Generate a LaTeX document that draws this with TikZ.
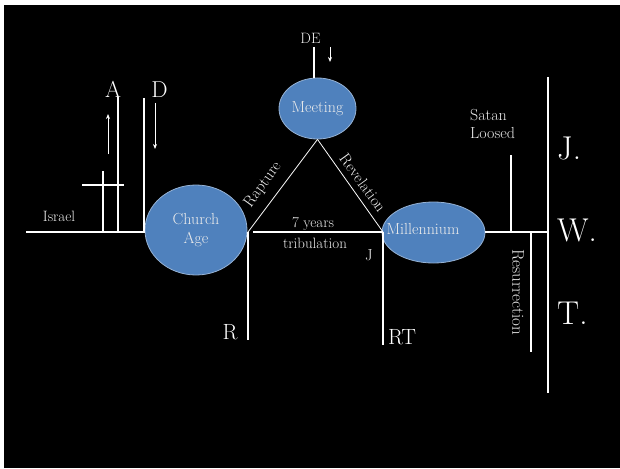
\documentclass[tikz,border=0pt]{standalone}
\usepackage{fontspec}
\usetikzlibrary{shapes.geometric,arrows.meta}
\definecolor{ovalfill}{RGB}{79,129,189}
\definecolor{ovaledge}{RGB}{150,178,212}
\definecolor{txt}{RGB}{235,235,235}
\newcommand{\fs}[1]{\fontsize{#1}{#1}\selectfont}
\begin{document}
\begin{tikzpicture}[x=1pt,y=-1pt,
  wline/.style={draw=white,line width=1.1pt},
  thin/.style={draw=white,line width=0.8pt},
  arr/.style={draw=white,line width=0.8pt,-{Stealth[length=5pt,width=4pt]}},
  oval/.style={ellipse,fill=ovalfill,draw=ovaledge,line width=0.8pt,inner sep=0pt},
  lab/.style={text=txt,inner sep=0pt},
  big/.style={text=white,inner sep=0pt}]
\useasboundingbox (0,0) rectangle (620,468);
\fill[white] (0,0) rectangle (620,468);
\fill[black] (4,5) rectangle (620,468);

% ellipses
\node[oval,minimum width=102pt,minimum height=90pt,text=txt,align=center,font=\fs{16}] (church) at (196,230) {Church\\[3pt]Age};
\node[oval,minimum width=77pt,minimum height=61pt,text=txt,font=\fs{16}] (meeting) at (317.5,108.5) {Meeting};
\node[oval,minimum width=103pt,minimum height=61pt] (mill) at (433.5,232.5) {};
\node[lab,font=\fs{16}] (milltxt) at (423,229) {Millennium};

% coordinates
\coordinate (L0) at (26,232);
\coordinate (tl) at (248,232);
\coordinate (tlb) at (253,232);
\coordinate (tr) at (383,232);
\coordinate (jr) at (548,232);
\coordinate (jtop) at (548,77);
\coordinate (jbot) at (548,393);
\coordinate (Rbot) at (248,340);
\coordinate (RTbot) at (383,345);
\coordinate (slt) at (511,155);
\coordinate (sl0) at (511,232);
\coordinate (res0) at (531,232);
\coordinate (resb) at (531,352);
\coordinate (Atop) at (118,97);
\coordinate (A0) at (118,232);
\coordinate (Dtop) at (144,98);
\coordinate (D0) at (144,232);
\coordinate (cv0) at (103,171);
\coordinate (cv1) at (103,232);
\coordinate (ch0) at (82,185);
\coordinate (ch1) at (124,185);
\coordinate (up0) at (108,154);
\coordinate (up1) at (108,114);
\coordinate (dn0) at (155,103);
\coordinate (dn1) at (155,149);
\coordinate (de0) at (314,47);
\coordinate (da0) at (330,47);
\coordinate (da1) at (330,62);

% lines
\draw[wline] (L0) -- (L0 -| church.west);
\draw[thin] (meeting.south) -- (tl);
\draw[thin] (meeting.south) -- (tr);
\draw[wline] (tlb) -- (tr);
\draw[wline] (tl) -- (Rbot);
\draw[wline] (tr) -- (RTbot);
\draw[wline] (mill.east |- jr) -- (jr);
\draw[wline] (jtop) -- (jbot);
\draw[wline] (slt) -- (sl0);
\draw[wline] (res0) -- (resb);
\draw[wline] (Atop) -- (A0);
\draw[wline] (Dtop) -- (D0);
\draw[wline] (cv0) -- (cv1);
\draw[wline] (ch0) -- (ch1);
\draw[arr] (up0) -- (up1);
\draw[arr] (dn0) -- (dn1);
\draw[wline] (de0) -- (de0 |- meeting.north);
\draw[arr] (da0) -- (da1);

% labels
\node[lab,font=\fs{15}] (israel) at (59,216) {Israel};
\node[big,font=\fs{23}] (A) at (113,89.5) {A};
\node[big,font=\fs{23}] (D) at (159.5,90) {D};
\node[lab,font=\fs{15}] (DE) at (310.5,38) {DE};
\node[lab,font=\fs{16},rotate=54] (rapture) at (263,185) {Rapture};
\node[lab,font=\fs{16},rotate=-54] (revelation) at (363,183) {Revelation};
\node[lab,font=\fs{15}] (seven) at (313,224) {7 years};
\node[lab,font=\fs{15}] (trib) at (315,243) {tribulation};
\node[lab,font=\fs{16}] (J) at (369,255) {J};
\node[big,font=\fs{22}] (R) at (230,332) {R};
\node[big,font=\fs{22}] (RT) at (402,337) {RT};
\node[lab,font=\fs{16},align=left,anchor=west] (satan) at (470,124) {Satan\\[2pt]Loosed};
\node[lab,font=\fs{17},rotate=-90] (resur) at (518,292) {Resurrection};
\node[big,font=\fs{33},anchor=west] (Jd) at (557,148) {J.};
\node[big,font=\fs{33},anchor=west] (Wd) at (557,230) {W.};
\node[big,font=\fs{33},anchor=west] (Td) at (557,313) {T.};
\end{tikzpicture}
\end{document}
